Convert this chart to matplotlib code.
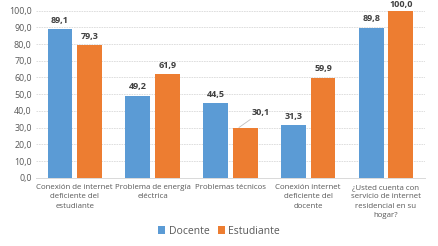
import matplotlib.pyplot as plt
import numpy as np

categorias = ["Conexión de internet\ndeficiente del\nestudiante",
              "Problema de energía\neléctrica",
              "Problemas técnicos",
              "Conexión internet\ndeficiente del\ndocente",
              "¿Usted cuenta con\nservicio de internet\nresidencial en su\nhogar?"]
docente = [89.1, 49.2, 44.5, 31.3, 89.8]
estudiante = [79.3, 61.9, 30.1, 59.9, 100.0]

AZUL = '#5B9BD5'
NARANJA = '#ED7D31'
GRIS = '#595959'

plt.rcParams['font.family'] = ['Open Sans', 'DejaVu Sans']

fig = plt.figure(figsize=(4.38, 2.46), dpi=100)
ax = fig.add_axes([0.082, 0.277, 0.888, 0.68])

x = np.arange(len(categorias))
w = 0.32
off = 0.19
b1 = ax.bar(x - off, docente, w, color=AZUL, label='Docente', zorder=3)
b2 = ax.bar(x + off, estudiante, w, color=NARANJA, label='Estudiante', zorder=3)

def fmt(v):
    return f"{v:.1f}".replace('.', ',')

for xi, v in zip(x - off, docente):
    ax.text(xi, v + 2.5, fmt(v), ha='center', va='bottom', fontsize=6.5,
            fontweight='bold', color='#404040', clip_on=False)
for i, (xi, v) in enumerate(zip(x + off, estudiante)):
    if i == 2:
        ax.annotate(fmt(v), xy=(xi - 0.08, v), xytext=(xi + 0.2, v + 6.5),
                    ha='center', va='bottom', fontsize=6.5, fontweight='bold',
                    color='#404040',
                    arrowprops=dict(arrowstyle='-', color='#BFBFBF', lw=0.6,
                                    shrinkA=0, shrinkB=0))
    else:
        ax.text(xi, v + (1.0 if v >= 100 else 2.5), fmt(v), ha='center',
                va='bottom', fontsize=6.5, fontweight='bold', color='#404040',
                clip_on=False)

ax.set_ylim(0, 100)
ax.set_xlim(-0.5, 4.5)
ticks = np.arange(0, 101, 10)
ax.set_yticks(ticks)
ax.set_yticklabels([fmt(t) for t in ticks], fontsize=6.4, color=GRIS)
ax.set_xticks(x)
ax.set_xticklabels(categorias, fontsize=5.7, color=GRIS, linespacing=1.45)
ax.tick_params(axis='both', length=0, pad=3)
ax.tick_params(axis='x', pad=4.5)
ax.grid(axis='y', color='#D9D9D9', linestyle=(0, (2, 1)), linewidth=0.6, zorder=0)
for s in ['top', 'right', 'left']:
    ax.spines[s].set_visible(False)
ax.spines['bottom'].set_color('#D9D9D9')
ax.spines['bottom'].set_linewidth(0.7)

fig.legend(handles=[b1, b2], loc='center', bbox_to_anchor=(0.5, 0.06), ncol=2,
           frameon=False, fontsize=7.5, handlelength=0.7, handleheight=0.7,
           handletextpad=0.3, columnspacing=0.8, labelcolor=GRIS)

fig.savefig('out.png', dpi=100)
